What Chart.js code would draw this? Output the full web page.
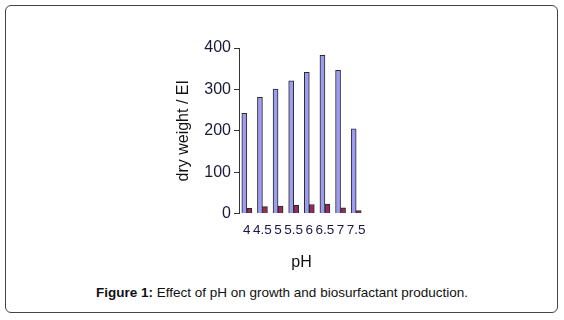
<!DOCTYPE html>
<html>
<head>
<meta charset="utf-8">
<script src="https://cdn.jsdelivr.net/npm/chart.js@4"></script>
<style>
  body { margin: 0; background: #fff; font-family: "Liberation Sans", Arial, sans-serif; }
  #frame { position: absolute; left: 5px; top: 5px; width: 551px; height: 306px;
           border: 1px solid #444; border-radius: 6px; }
  #wrap { position: absolute; left: 0; top: 0; width: 564px; height: 280px; }
  #caption { position: absolute; left: 0; top: 285px; width: 564px; text-align: center;
             font-size: 13.5px; color: #111; }
</style>
</head>
<body>
<div id="frame"></div>
<div id="wrap"><canvas id="myChart"></canvas></div>
<div id="caption"><b>Figure 1:</b> Effect of pH on growth and biosurfactant production.</div>
<script>
// pH categories and the two series
var labels = ['4', '4.5', '5', '5.5', '6', '6.5', '7', '7.5'];
var dryWeight = [242, 281, 301, 321, 341, 382, 346, 205];
var emulsIndex = [13, 17, 18, 20, 22, 23, 14, 7];
var yTicks = [0, 100, 200, 300, 400];

const ctx = document.getElementById('myChart');
var chart = new Chart(ctx, {
  type: 'bar',
  data: {
    labels: labels,
    datasets: [{
      label: 'dry weight',
      data: dryWeight,
      backgroundColor: '#9c9cf0',
      borderColor: '#2a2a2a',
      borderWidth: 1,
      barThickness: 5,
      categoryPercentage: 0.66
    }, {
      label: 'EI',
      data: emulsIndex,
      backgroundColor: '#8e2d5c',
      borderColor: '#2a2a2a',
      borderWidth: 1,
      barThickness: 5,
      categoryPercentage: 0.66
    }]
  },
  options: {
    responsive: true,
    maintainAspectRatio: false,
    animation: false,
    layout: { padding: { left: 172, right: 200, top: 48, bottom: 4 } },
    plugins: { legend: { display: false }, tooltip: { enabled: false } },
    scales: {
      x: {
        grid: { display: false },
        border: { display: false },
        ticks: { autoSkip: false, maxRotation: 0, color: '#1a1a4a', padding: 1,
                 font: { family: 'Liberation Sans', size: 13.5 } },
        title: { display: true, text: 'pH', color: '#111', padding: { top: 13 },
                 font: { family: 'Liberation Sans', size: 16 } }
      },
      y: {
        min: 0, max: 400,
        afterBuildTicks: function(s) { s.ticks = yTicks.map(function(v) { return { value: v }; }); },
        afterFit: function(s) { s.width = 67; },
        grid: { drawOnChartArea: false, drawTicks: true, tickLength: 5, color: '#333' },
        border: { display: true, color: '#333' },
        ticks: { color: '#1a1a3a', padding: 3, font: { family: 'Liberation Sans', size: 16 } },
        title: { display: true, text: 'dry weight / EI', color: '#111', padding: 2,
                 font: { family: 'Liberation Sans', size: 16 } }
      }
    }
  }
});
</script>
</body>
</html>
